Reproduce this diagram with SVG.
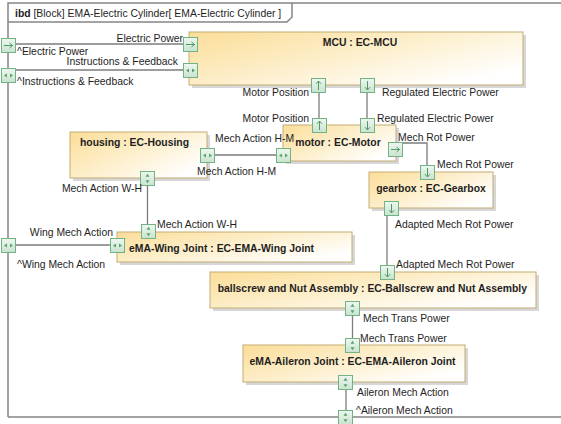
<svg xmlns="http://www.w3.org/2000/svg" xmlns:xlink="http://www.w3.org/1999/xlink" width="561" height="424" viewBox="0 0 561 424">
<style>
text{font-family:"Liberation Sans",Arial,sans-serif;font-size:10.4px;fill:#1e1e1e}
.t{font-weight:bold}
.e{text-anchor:end}
.m{text-anchor:middle}
.box{fill:url(#bg);stroke:#c3ad74;stroke-width:1}
.sh{fill:#bdbdbd;opacity:.6}
.c{fill:none;stroke:#7c7c7c;stroke-width:1.3}
.frame{fill:none;stroke:#858585;stroke-width:1.5}
.pr{fill:url(#pg);stroke:#73b282;stroke-width:1}
.gl{fill:none;stroke:#4f9a62;stroke-width:1}
.gf{fill:#5aa36c;stroke:none}
</style>
<defs>
<linearGradient id="bg" x1="0" y1="0" x2="1" y2="0.7">
<stop offset="0" stop-color="#fbdd98"/>
<stop offset="0.55" stop-color="#fdf0cf"/>
<stop offset="1" stop-color="#ffffff"/>
</linearGradient>
<linearGradient id="pg" x1="0" y1="0" x2="0" y2="1">
<stop offset="0" stop-color="#eef7f0"/>
<stop offset="1" stop-color="#c9e3d0"/>
</linearGradient>
<g id="p-r"><rect class="pr" x="0.5" y="0.5" width="14" height="14"/><path class="gl" d="M3 7.5H11.5M8.5 5L11.5 7.5L8.5 10"/></g>
<g id="p-h"><rect class="pr" x="0.5" y="0.5" width="14" height="14"/><path class="gf" d="M3 7.5L6 5.5V9.5ZM12 7.5L9 5.5V9.5Z"/></g>
<g id="p-u"><rect class="pr" x="0.5" y="0.5" width="14" height="14"/><path class="gl" d="M7.5 12V3M5 5.8L7.5 3L10 5.8"/></g>
<g id="p-d"><rect class="pr" x="0.5" y="0.5" width="14" height="14"/><path class="gl" d="M7.5 3V12M5 9.2L7.5 12L10 9.2"/></g>
<g id="p-v"><rect class="pr" x="0.5" y="0.5" width="14" height="14"/><path class="gf" d="M7.5 2.8L5.5 5.8H9.5ZM7.5 12.2L5.5 9.2H9.5Z"/></g>
</defs>

<g id="frame">
<path class="frame" d="M8 417V3H570M8 417H570"/>
<path class="frame" d="M8 22H287L292 17V3"/>
<text x="15" y="17"><tspan class="t">ibd</tspan> [Block] EMA-Electric Cylinder[ EMA-Electric Cylinder ]</text>
</g>

<g id="connectors">
<path class="c" d="M16 44H183"/>
<path class="c" d="M16 70H183"/>
<path class="c" d="M319 92V118"/>
<path class="c" d="M367 92V118"/>
<path class="c" d="M214 155H276"/>
<path class="c" d="M403 143H427V165"/>
<path class="c" d="M387 215V265"/>
<path class="c" d="M147.5 186V224"/>
<path class="c" d="M16 245H110"/>
<path class="c" d="M352.5 315V338"/>
<path class="c" d="M346 389V410"/>
</g>

<g id="MCU">
<rect class="sh" x="192" y="35" width="334" height="53"/>
<rect class="box" x="189" y="32" width="334" height="53"/>
<text class="t m" x="360" y="46">MCU : EC-MCU</text>
</g>
<g id="motor">
<rect class="sh" x="286" y="128" width="113" height="36"/>
<rect class="box" x="283" y="125" width="113" height="36"/>
<text class="t m" x="338" y="146">motor : EC-Motor</text>
</g>
<g id="housing">
<rect class="sh" x="73" y="135" width="137" height="46"/>
<rect class="box" x="70" y="132" width="137" height="46"/>
<text class="t m" x="134.5" y="146">housing : EC-Housing</text>
</g>
<g id="gearbox">
<rect class="sh" x="372" y="175" width="124" height="36"/>
<rect class="box" x="369" y="172" width="124" height="36"/>
<text class="t m" x="431" y="192">gearbox : EC-Gearbox</text>
</g>
<g id="wingJoint">
<rect class="sh" x="120" y="235" width="235" height="30"/>
<rect class="box" x="117" y="232" width="235" height="30"/>
<text class="t" x="129" y="252">eMA-Wing Joint : EC-EMA-Wing Joint</text>
</g>
<g id="ballscrew">
<rect class="sh" x="213" y="275" width="326" height="36"/>
<rect class="box" x="210" y="272" width="326" height="36"/>
<text class="t e" x="527" y="292">ballscrew and Nut Assembly : EC-Ballscrew and Nut Assembly</text>
</g>
<g id="aileronJoint">
<rect class="sh" x="246" y="348" width="222" height="37"/>
<rect class="box" x="243" y="345" width="222" height="37"/>
<text class="t m" x="352.5" y="365">eMA-Aileron Joint : EC-EMA-Aileron Joint</text>
</g>

<g id="ports">
<use href="#p-r" x="1" y="38"/>
<use href="#p-h" x="1" y="68"/>
<use href="#p-h" x="1" y="238"/>
<use href="#p-v" x="338" y="410"/>
<use href="#p-r" x="183" y="37"/>
<use href="#p-h" x="183" y="63"/>
<use href="#p-u" x="311" y="78"/>
<use href="#p-d" x="360" y="78"/>
<use href="#p-u" x="312" y="118"/>
<use href="#p-d" x="360" y="118"/>
<use href="#p-h" x="276" y="148"/>
<use href="#p-r" x="388" y="142"/>
<use href="#p-h" x="200" y="148"/>
<use href="#p-v" x="140" y="171"/>
<use href="#p-d" x="420" y="165"/>
<use href="#p-d" x="384" y="201"/>
<use href="#p-v" x="141" y="224"/>
<use href="#p-h" x="110" y="238"/>
<use href="#p-d" x="380" y="265"/>
<use href="#p-v" x="345" y="301"/>
<use href="#p-v" x="345" y="338"/>
<use href="#p-v" x="338" y="375"/>
</g>

<g id="labels">
<text class="e" x="183" y="42">Electric Power</text>
<text x="17" y="55">^Electric Power</text>
<text class="e" x="178" y="64.5">Instructions &amp; Feedback</text>
<text x="17" y="85">^Instructions &amp; Feedback</text>
<text class="e" x="309" y="96">Motor Position</text>
<text x="382" y="96">Regulated Electric Power</text>
<text class="e" x="309" y="122">Motor Position</text>
<text x="377" y="122">Regulated Electric Power</text>
<text x="215" y="142">Mech Action H-M</text>
<text x="197" y="175">Mech Action H-M</text>
<text class="e" x="142" y="192">Mech Action W-H</text>
<text x="398" y="141">Mech Rot Power</text>
<text x="437" y="168">Mech Rot Power</text>
<text x="395" y="228">Adapted Mech Rot Power</text>
<text x="157" y="228">Mech Action W-H</text>
<text class="e" x="113" y="236">Wing Mech Action</text>
<text x="17" y="268">^Wing Mech Action</text>
<text x="396" y="268">Adapted Mech Rot Power</text>
<text x="363" y="322">Mech Trans Power</text>
<text x="360" y="342">Mech Trans Power</text>
<text x="357" y="396">Aileron Mech Action</text>
<text x="356" y="414">^Aileron Mech Action</text>
</g>
</svg>
